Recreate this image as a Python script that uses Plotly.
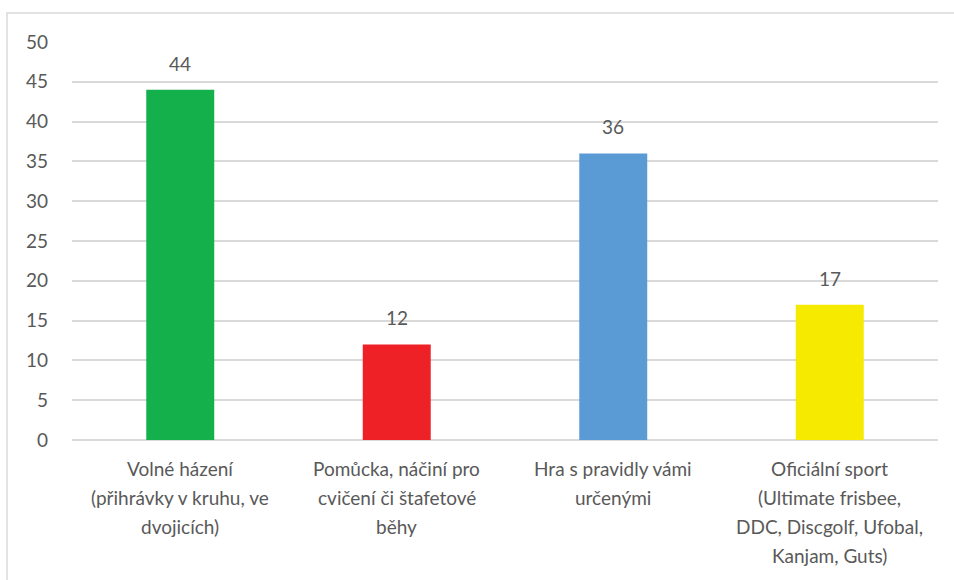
import plotly.graph_objects as go

# Category labels, one list of lines per category
label_lines = [
    ["Volné házení", "(přihrávky v kruhu, ve", "dvojicích)"],
    ["Pomůcka, náčiní pro", "cvičení či štafetové", "běhy"],
    ["Hra s pravidly vámi", "určenými"],
    ["Oficiální sport", "(Ultimate frisbee,", "DDC, Discgolf, Ufobal,", "Kanjam, Guts)"],
]
categories = [" ".join(lines) for lines in label_lines]
values = [44, 12, 36, 17]
bar_colors = ["#14B04C", "#EE2126", "#5B9BD5", "#F5EA00"]
y_ticks = [0, 5, 10, 15, 20, 25, 30, 35, 40, 45, 50]

FONT = "Lato, 'Open Sans', sans-serif"
GRAY = "#595959"
SIZE = 19

fig = go.Figure(
    go.Bar(
        x=categories,
        y=values,
        marker=dict(color=bar_colors, line=dict(width=0)),
        width=0.314,
        hoverinfo="x+y",
    )
)

annotations = []
# value labels above bars
for cat, v in zip(categories, values):
    annotations.append(dict(
        x=cat, y=v, xref="x", yref="y", text=str(v), showarrow=False,
        yanchor="bottom", yshift=13, font=dict(family=FONT, size=SIZE, color=GRAY),
    ))
# multi-line category labels under the axis
line_px = 29
for cat, lines in zip(categories, label_lines):
    for i, line in enumerate(lines):
        annotations.append(dict(
            x=cat, y=0, xref="x", yref="paper", text=line, showarrow=False,
            yanchor="middle", yshift=-(28 + i * line_px),
            font=dict(family=FONT, size=SIZE, color=GRAY),
        ))

fig.update_layout(
    width=954, height=580,
    margin=dict(l=72, r=16, t=42, b=140),
    paper_bgcolor="white", plot_bgcolor="white",
    showlegend=False,
    font=dict(family=FONT, size=SIZE, color=GRAY),
    xaxis=dict(showticklabels=False, showgrid=False, zeroline=False,
               showline=False, ticks=""),
    yaxis=dict(range=[0, 50], tickvals=y_ticks, showgrid=True,
               gridcolor="#D9D9D9", gridwidth=1.5, zeroline=True,
               zerolinecolor="#D9D9D9", zerolinewidth=1.5, showline=False,
               ticks="", ticklabelstandoff=23,
               tickfont=dict(family=FONT, size=SIZE, color=GRAY)),
    annotations=annotations,
    shapes=[dict(type="rect", xref="paper", yref="paper",
                 x0=-0.0751, x1=1.2, y0=-0.6, y1=1.0729,
                 line=dict(color="#D9D9D9", width=1.5), layer="below")],
)

fig.write_html("out.html")
